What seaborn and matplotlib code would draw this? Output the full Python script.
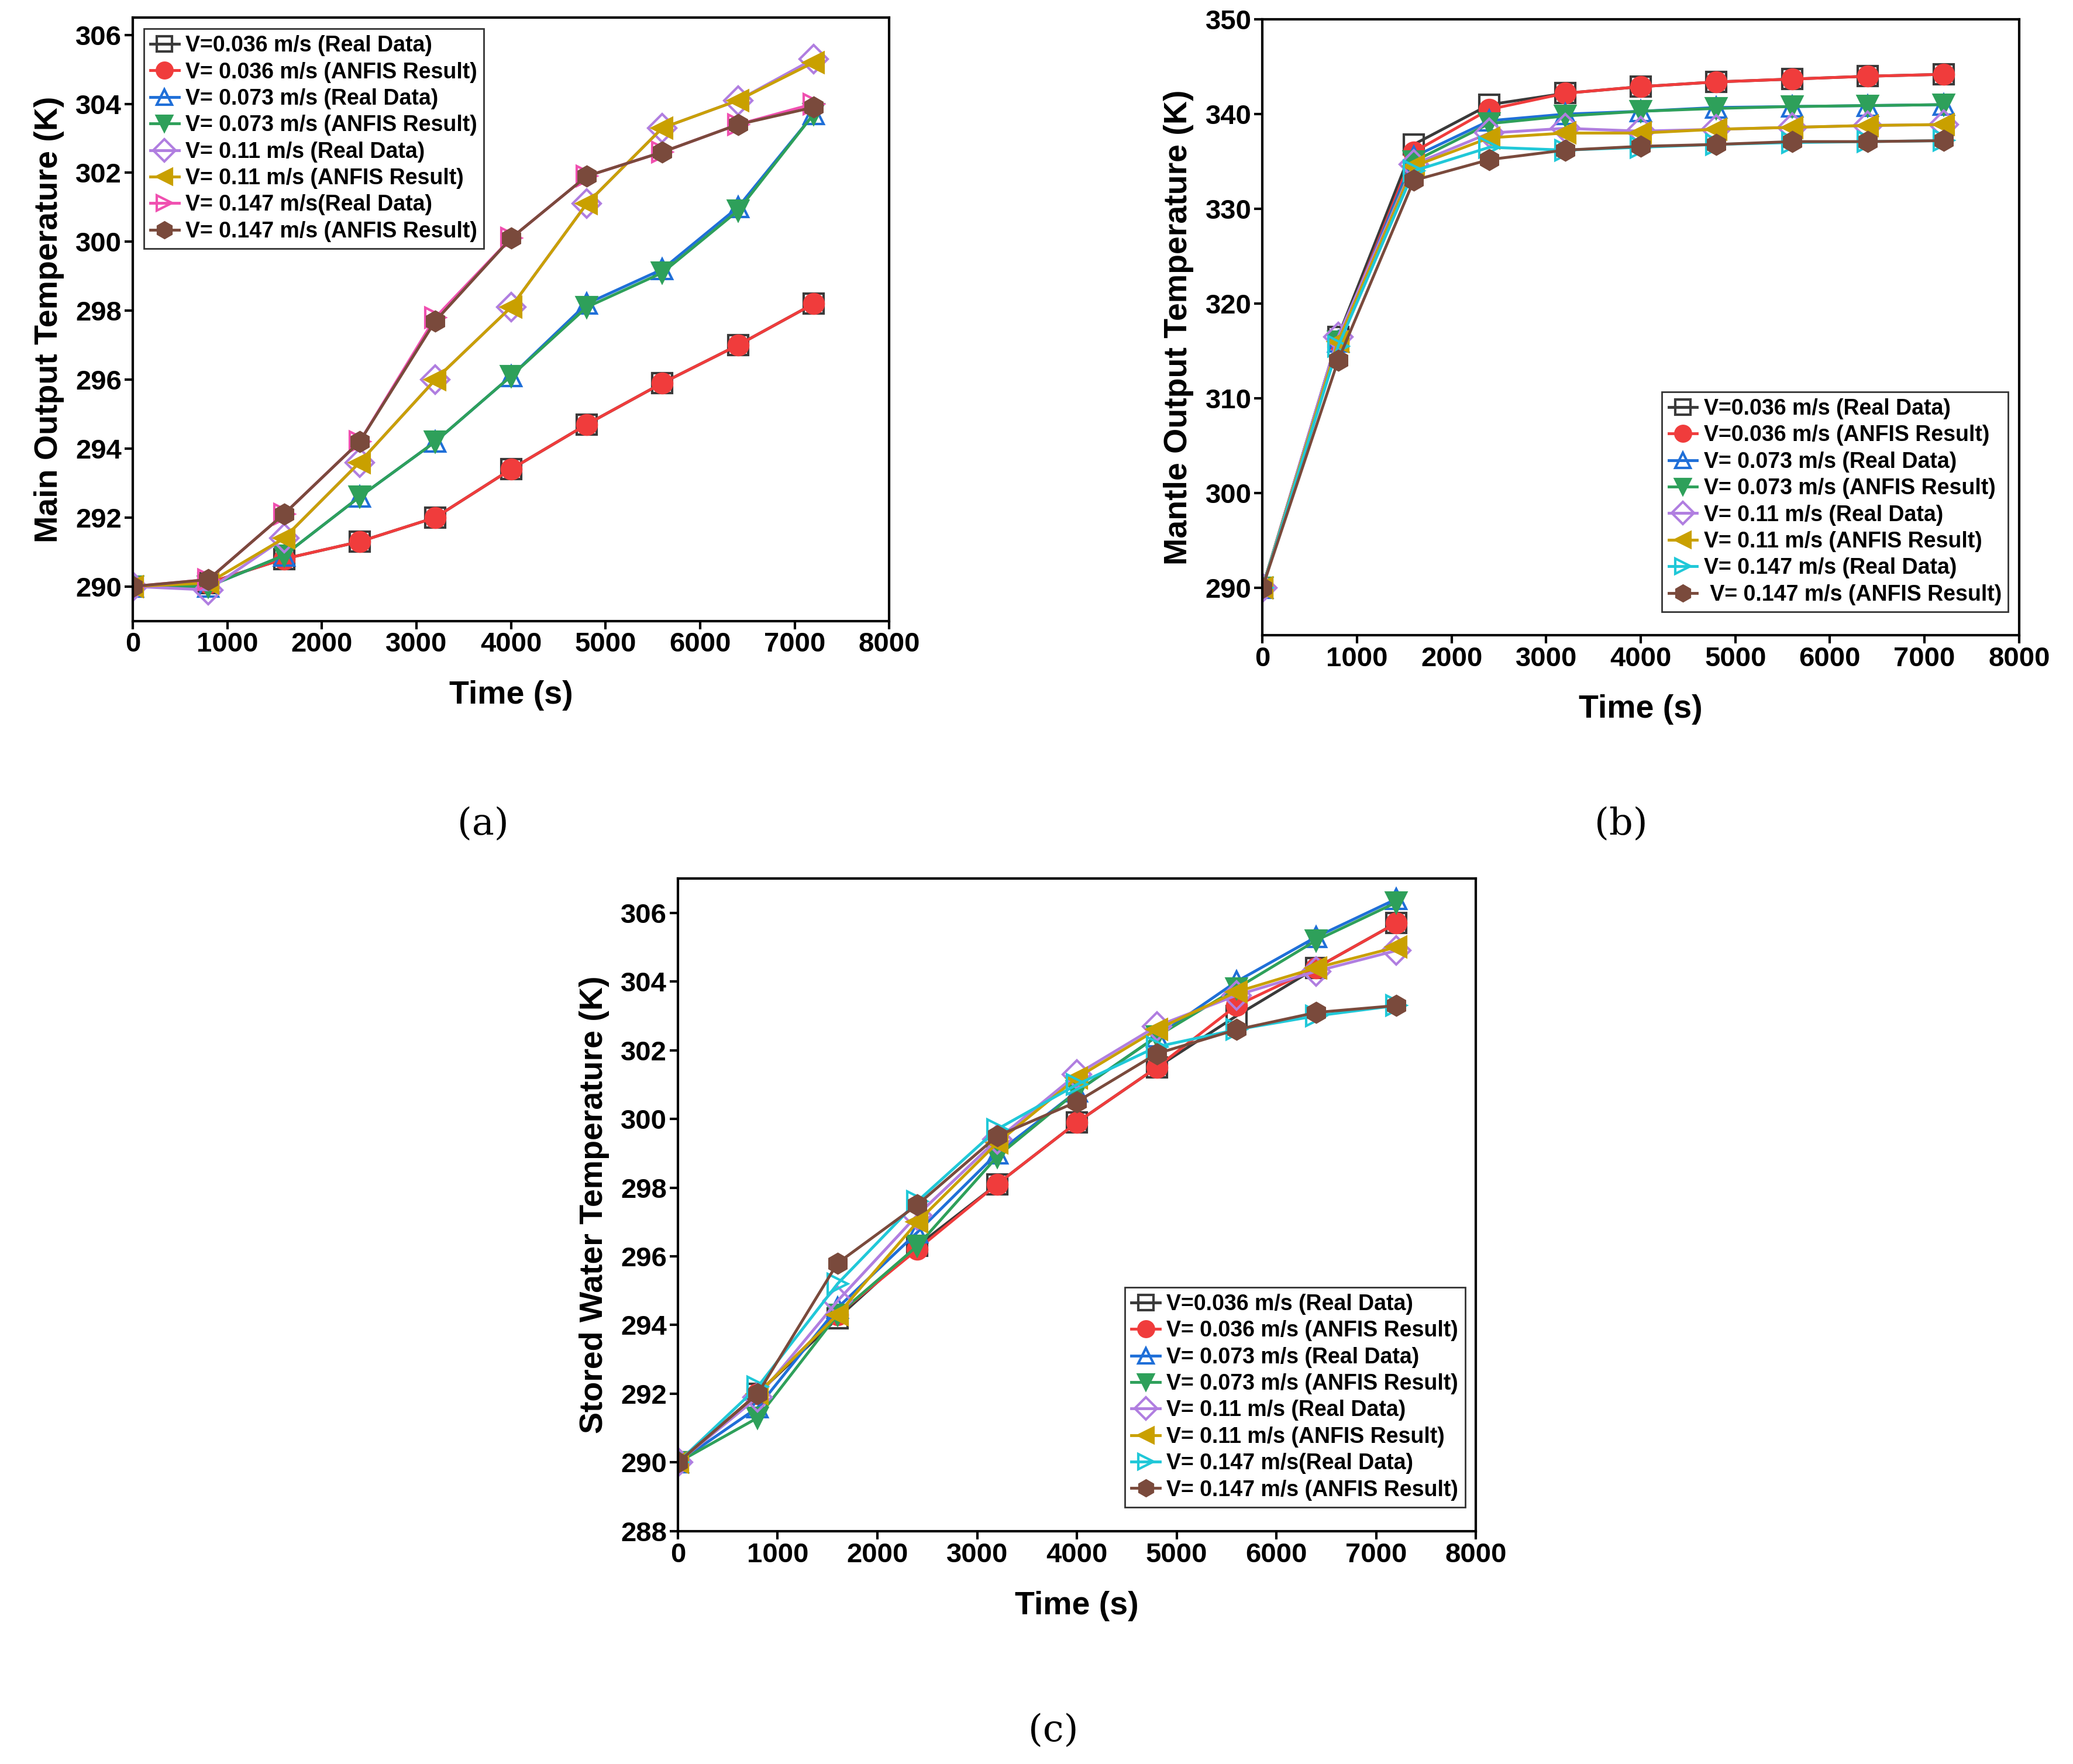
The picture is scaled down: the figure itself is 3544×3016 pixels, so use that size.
import numpy as np
import pandas as pd
import matplotlib
matplotlib.use("Agg")
import matplotlib.pyplot as plt
import seaborn as sns

time_s = [0, 800, 1600, 2400, 3200, 4000, 4800, 5600, 6400, 7200]

labels_a = ["V=0.036 m/s (Real Data)", "V= 0.036 m/s (ANFIS Result)",
            "V= 0.073 m/s (Real Data)", "V= 0.073 m/s (ANFIS Result)",
            "V= 0.11 m/s (Real Data)", "V= 0.11 m/s (ANFIS Result)",
            "V= 0.147 m/s(Real Data)", "V= 0.147 m/s (ANFIS Result)"]
labels_b = ["V=0.036 m/s (Real Data)", "V=0.036 m/s (ANFIS Result)",
            "V= 0.073 m/s (Real Data)", "V= 0.073 m/s (ANFIS Result)",
            "V= 0.11 m/s (Real Data)", "V= 0.11 m/s (ANFIS Result)",
            "V= 0.147 m/s (Real Data)", " V= 0.147 m/s (ANFIS Result)"]
labels_c = labels_a

# panel (a) main output temperature
main_temp = [
    [290, 290.1, 290.8, 291.3, 292.0, 293.4, 294.7, 295.9, 297.0, 298.2],
    [290, 290.1, 290.8, 291.3, 292.0, 293.4, 294.7, 295.9, 297.0, 298.2],
    [290, 290.0, 290.9, 292.6, 294.2, 296.1, 298.2, 299.2, 301.0, 303.7],
    [290, 290.0, 290.9, 292.6, 294.2, 296.1, 298.1, 299.1, 300.9, 303.7],
    [290, 289.9, 291.4, 293.6, 296.0, 298.1, 301.1, 303.3, 304.1, 305.3],
    [290, 290.1, 291.4, 293.6, 296.0, 298.1, 301.1, 303.3, 304.1, 305.2],
    [290, 290.2, 292.1, 294.2, 297.8, 300.1, 301.9, 302.6, 303.4, 304.0],
    [290, 290.2, 292.1, 294.2, 297.7, 300.1, 301.9, 302.6, 303.4, 303.9],
]
# panel (b) mantle output temperature
mantle_temp = [
    [290, 316.5, 336.8, 341.0, 342.2, 342.9, 343.4, 343.7, 344.0, 344.2],
    [290, 316.0, 336.0, 340.5, 342.2, 342.9, 343.4, 343.7, 344.0, 344.2],
    [290, 316.0, 335.5, 339.3, 340.0, 340.3, 340.7, 340.8, 340.9, 341.0],
    [290, 316.0, 335.0, 339.0, 339.8, 340.3, 340.6, 340.8, 340.9, 341.0],
    [290, 316.5, 334.7, 338.0, 338.5, 338.2, 338.4, 338.6, 338.8, 338.9],
    [290, 316.0, 334.5, 337.5, 338.0, 338.0, 338.4, 338.6, 338.8, 338.9],
    [290, 315.5, 334.0, 336.5, 336.2, 336.5, 336.8, 337.0, 337.1, 337.2],
    [290, 314.0, 333.0, 335.2, 336.2, 336.6, 336.8, 337.1, 337.1, 337.2],
]
# panel (c) stored water temperature
stored_temp = [
    [290, 292.0, 294.2, 296.3, 298.1, 299.9, 301.5, 303.0, 304.4, 305.7],
    [290, 292.0, 294.3, 296.2, 298.1, 299.9, 301.5, 303.3, 304.4, 305.7],
    [290, 291.6, 294.5, 296.7, 299.0, 300.8, 302.4, 304.0, 305.3, 306.4],
    [290, 291.3, 294.3, 296.3, 298.9, 300.8, 302.4, 303.8, 305.2, 306.3],
    [290, 291.9, 294.7, 297.2, 299.4, 301.3, 302.7, 303.6, 304.3, 304.9],
    [290, 292.0, 294.3, 297.0, 299.3, 301.2, 302.6, 303.7, 304.4, 305.0],
    [290, 292.2, 295.2, 297.6, 299.7, 301.0, 302.1, 302.6, 303.0, 303.3],
    [290, 292.0, 295.8, 297.5, 299.5, 300.5, 301.9, 302.6, 303.1, 303.3],
]

markers = ["s", "o", "^", "v", "D", "<", ">", "h"]
filled = [False, True, False, True, False, True, False, True]
colors_a = ["#3a3a3a", "#f03c3c", "#1f6fd8", "#2ea05a", "#b07ee0", "#c9a000", "#f050b0", "#7a4a3c"]
colors_bc = ["#3a3a3a", "#f03c3c", "#1f6fd8", "#2ea05a", "#b07ee0", "#c9a000", "#20c8d8", "#7a4a3c"]

plt.rcParams["font.family"] = "Liberation Sans"
plt.rcParams["font.weight"] = "bold"
fig = plt.figure(figsize=(35.44, 30.16), dpi=100)


def draw(rect, series, labels, colors, ylim, yticks, ylabel, legend_loc, legend_anchor):
    ax = fig.add_axes(rect)
    for vals, lab, mk, fl, col in zip(series, labels, markers, filled, colors):
        df = pd.DataFrame({"t": time_s, "T": vals})
        sns.lineplot(data=df, x="t", y="T", ax=ax, color=col, lw=3.5, label=lab)
        ln = ax.lines[-1]
        ln.set_marker(mk)
        ln.set_markersize(24)
        ln.set_markeredgewidth(3)
        ln.set_markeredgecolor(col)
        ln.set_markerfacecolor(col if fl else "none")
    ax.set_xlim(0, 8000)
    ax.set_xticks(range(0, 8001, 1000))
    ax.set_ylim(*ylim)
    ax.set_yticks(yticks)
    ax.set_xlabel("Time (s)", fontsize=40, fontweight="bold", labelpad=28)
    ax.set_ylabel(ylabel, fontsize=40, fontweight="bold", labelpad=14)
    ax.tick_params(labelsize=34, width=3, length=10)
    for lbl in ax.get_xticklabels() + ax.get_yticklabels():
        lbl.set_fontweight("bold")
    for sp in ax.spines.values():
        sp.set_linewidth(3)
    leg = ax.legend(loc=legend_loc, bbox_to_anchor=legend_anchor, fontsize=27,
                    frameon=True, fancybox=False, edgecolor="black",
                    handlelength=1.3, handletextpad=0.3, borderpad=0.3, labelspacing=0.25,
                    markerscale=0.8)
    leg.get_frame().set_linewidth(2)
    for t in leg.get_texts():
        t.set_fontweight("bold")
    return ax


draw([0.064, 0.648, 0.365, 0.342], main_temp, labels_a, colors_a, (289, 306.5),
     range(290, 307, 2), "Main Output Temperature (K)", "upper left", (0.0, 1.0))
draw([0.609, 0.640, 0.365, 0.349], mantle_temp, labels_b, colors_bc, (285, 350),
     range(290, 351, 10), "Mantle Output Temperature (K)", "lower right", (1.0, 0.02))
draw([0.327, 0.132, 0.385, 0.370], stored_temp, labels_c, colors_bc, (288, 307),
     range(288, 307, 2), "Stored Water Temperature (K)", "lower right", (1.0, 0.02))

fig.text(0.233, 0.527, "(a)", fontsize=46, fontweight="normal", ha="center",
         family="DejaVu Serif")
fig.text(0.782, 0.527, "(b)", fontsize=46, fontweight="normal", ha="center",
         family="DejaVu Serif")
fig.text(0.508, 0.013, "(c)", fontsize=46, fontweight="normal", ha="center",
         family="DejaVu Serif")

fig.savefig("out.png", dpi=100)
